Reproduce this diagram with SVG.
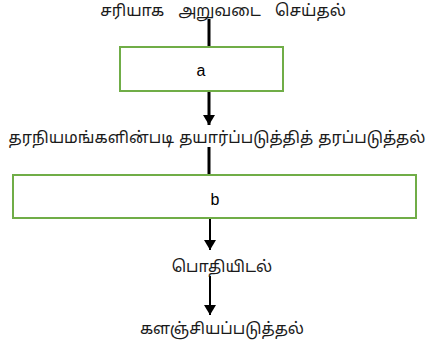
<svg xmlns="http://www.w3.org/2000/svg" width="434" height="349" viewBox="0 0 434 349">
<style>
.t{font-family:"Noto Sans","Noto Sans Tamil","Liberation Sans",sans-serif;font-size:16px;fill:#1a1a1a;text-anchor:middle}
.l{font-family:"Liberation Sans",Arial,sans-serif;font-size:16px;fill:#000;text-anchor:middle}
.box{fill:#fff;stroke:#70AD47;stroke-width:2}
.c{stroke:#000;fill:none}
</style>
<defs>
<marker id="ah" markerWidth="12" markerHeight="12" refX="10" refY="6" orient="auto" markerUnits="userSpaceOnUse">
<path d="M0,0 L10,6 L0,12 Z" fill="#000"/>
</marker>
</defs>
<g id="connectors">
<line class="c" x1="209" y1="19" x2="209" y2="47" stroke-width="3"/>
<line class="c" x1="209" y1="91" x2="209" y2="125" stroke-width="3" marker-end="url(#ah)"/>
<line class="c" x1="209" y1="147" x2="209" y2="175" stroke-width="3"/>
<line class="c" x1="210" y1="218" x2="210" y2="250" stroke-width="2" marker-end="url(#ah)"/>
<line class="c" x1="210" y1="276" x2="210" y2="315" stroke-width="2" marker-end="url(#ah)"/>
</g>
<g id="title"><text class="t" x="223" y="16" word-spacing="10">சரியாக அறுவடை செய்தல்</text></g>
<g id="node-a"><rect class="box" x="120" y="47" width="163" height="44"/><text class="l" x="201" y="76">a</text></g>
<g id="step2"><text class="t" x="217" y="143" word-spacing="1">தரநியமங்களின்படி தயார்ப்படுத்தித் தரப்படுத்தல்</text></g>
<g id="node-b"><rect class="box" x="13" y="175" width="403" height="43"/><text class="l" x="215" y="205">b</text></g>
<g id="step3"><text class="t" x="222" y="272">பொதியிடல்</text></g>
<g id="step4"><text class="t" x="222" y="334">களஞ்சியப்படுத்தல்</text></g>
</svg>
